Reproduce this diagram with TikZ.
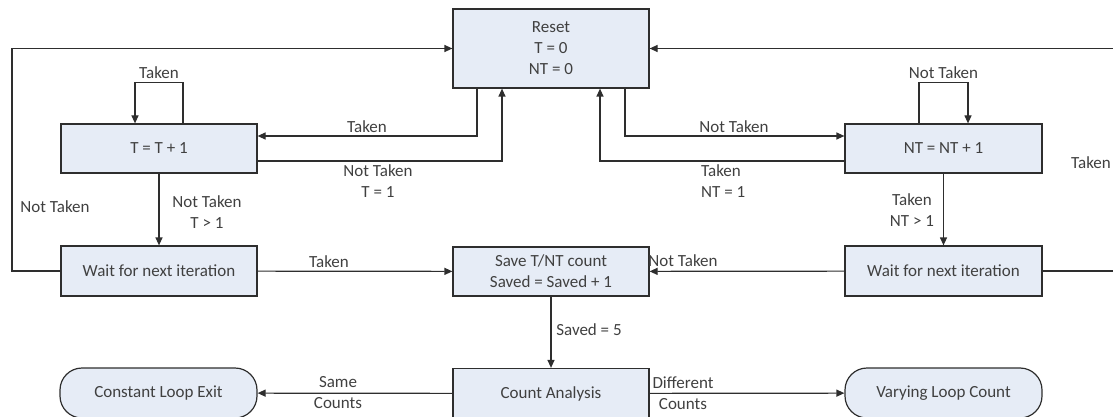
\documentclass[tikz,border=0pt]{standalone}
\usepackage{fontspec}
\setmainfont{Carlito}
\usetikzlibrary{arrows.meta,calc}
\definecolor{boxfill}{HTML}{E6ECF6}
\definecolor{linec}{HTML}{2E2E2E}
\definecolor{txt}{HTML}{404040}
\begin{document}
\begin{tikzpicture}[x=1pt,y=-1pt,
  every node/.style={font=\fontsize{17}{21}\selectfont, text=txt},
  box/.style={draw=linec, line width=1.2pt, fill=boxfill, minimum width=196pt, inner sep=0pt, align=center},
  pill/.style={box, rounded corners=22pt},
  arr/.style={draw=linec, line width=1.2pt, -{Triangle[length=8pt,width=7pt]}},
  lbl/.style={align=center, inner sep=0pt}]
\useasboundingbox (0,0) rectangle (1113,417);
\clip (0,0) rectangle (1113,417);

% nodes
\node[box, minimum height=79pt] (reset) at (551,48.5) {Reset\\T = 0\\NT = 0};
\node[box, minimum height=49pt] (tbox) at (159,148.5) {T = T + 1};
\node[box, minimum height=49pt, minimum width=197pt] (ntbox) at (943.5,148.5) {NT = NT + 1};
\node[box, minimum height=50pt] (waitl) at (159,271) {Wait for next iteration};
\node[box, minimum height=49pt] (save) at (551,271.5) {Save T/NT count\\Saved = Saved + 1};
\node[box, minimum height=50pt, minimum width=197pt] (waitr) at (943.5,271) {Wait for next iteration};
\node[box, minimum height=50pt] (count) at (551,393.5) {Count Analysis};
\node[pill, minimum height=50pt, minimum width=197pt] (constl) at (158.5,393) {Constant Loop Exit};
\node[pill, minimum height=50pt, minimum width=197pt] (vary) at (943.5,393) {Varying Loop Count};

\coordinate (lc) at (12,0);
\coordinate (rc) at (1135,0);

% connectors
\draw[arr] (waitl.west) -| (lc |- reset.west) -- (reset.west);
\draw[arr] (waitr.east) -| (rc |- reset.east) -- (reset.east);
\draw[arr] ($(tbox.north)+(24,0)$) -- ++(0,-41) -| ($(tbox.north)+(-24,0)$);
\draw[arr] ($(ntbox.north)+(-24.5,0)$) -- ++(0,-41) -| ($(ntbox.north)+(24.5,0)$);
\draw[arr] ($(reset.south)+(-74,0)$) |- ($(tbox.east)+(0,-12.5)$);
\draw[arr] ($(tbox.east)+(0,12.5)$) -| ($(reset.south)+(-49,0)$);
\draw[arr] ($(reset.south)+(74,0)$) |- ($(ntbox.west)+(0,-12.5)$);
\draw[arr] ($(ntbox.west)+(0,12.5)$) -| ($(reset.south)+(49,0)$);
\draw[arr] (tbox) -- (waitl);
\draw[arr] (ntbox) -- (waitr);
\draw[arr] (waitl) -- (save);
\draw[arr] (waitr) -- (save);
\draw[arr] (save) -- (count);
\draw[arr] (count) -- (constl);
\draw[arr] (count) -- (vary);

% labels
\node[lbl] (l1) at (55,207) {Not Taken};
\node[lbl] (l2) at (159,73) {Taken};
\node[lbl] (l3) at (367,127) {Taken};
\node[lbl] (l4) at (378,181) {Not Taken\\T = 1};
\node[lbl] (l5) at (734,127) {Not Taken};
\node[lbl, align=left, anchor=west] (l6) at (701,181) {Taken\\NT = 1};
\node[lbl] (l7) at (943.5,73) {Not Taken};
\node[lbl] (l8) at (207,212) {Not Taken\\T > 1};
\node[lbl] (l9) at (912,210) {Taken\\NT > 1};
\node[lbl] (l10) at (329,262) {Taken};
\node[lbl] (l11) at (683,261) {Not Taken};
\node[lbl] (l12) at (1091,163) {Taken};
\node[lbl] (l13) at (589,330) {Saved = 5};
\node[lbl] (l14) at (338,393) {Same\\Counts};
\node[lbl] (l15) at (683,393) {Different\\Counts};
\end{tikzpicture}
\end{document}
